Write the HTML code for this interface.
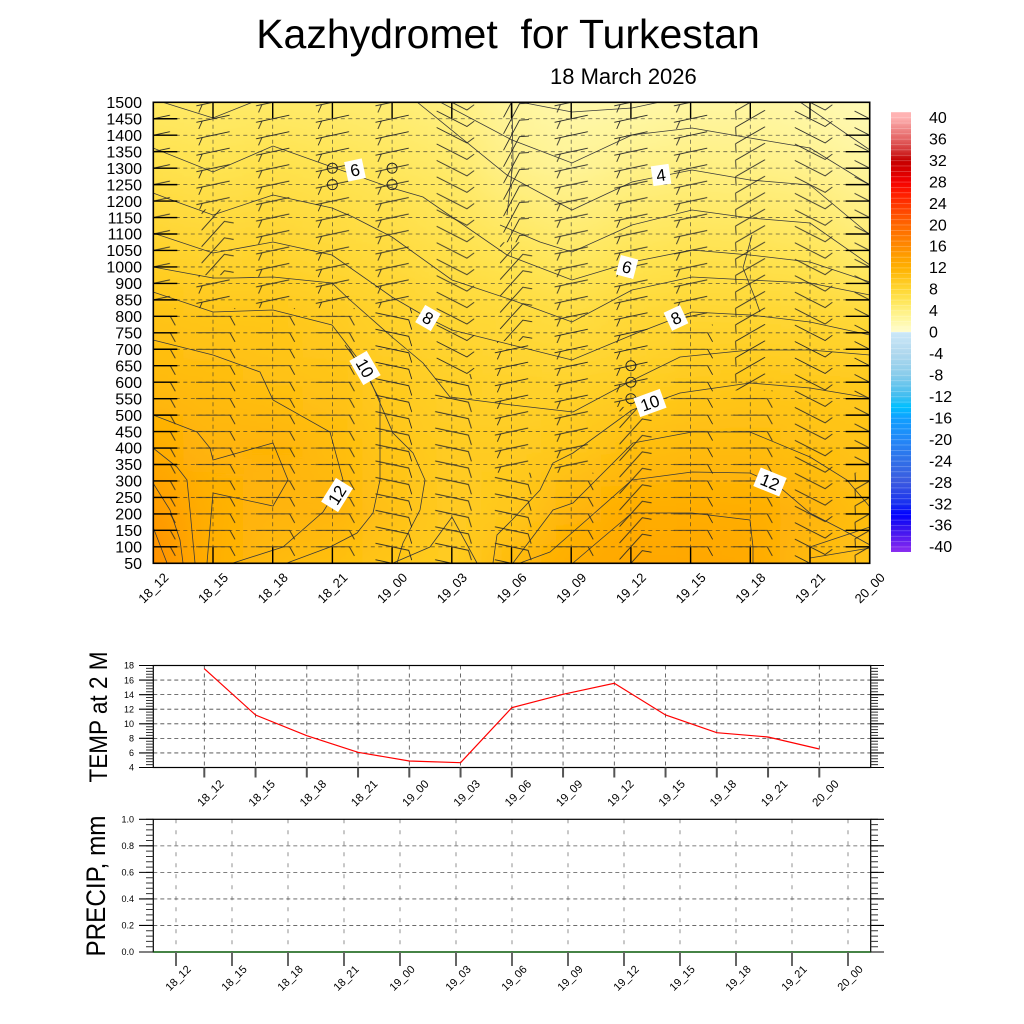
<!DOCTYPE html>
<html>
<head>
<meta charset="utf-8">
<style>
html,body{margin:0;padding:0;background:#fff;}
svg{display:block;font-family:"Liberation Sans",Arial,sans-serif;}
</style>
</head>
<body>
<svg width="1024" height="1024" viewBox="0 0 1024 1024" xmlns="http://www.w3.org/2000/svg">
<defs>
  <filter id="hb" filterUnits="userSpaceOnUse" x="60" y="95" width="910" height="480">
    <feGaussianBlur stdDeviation="22 0"/>
  </filter>
  <clipPath id="plotclip"><rect x="153.3" y="102.3" width="716.4" height="461"/></clipPath>

  <linearGradient id="g0" x1="0" y1="0" x2="0" y2="1"><stop offset="0" stop-color="#ffe964"/><stop offset=".143" stop-color="#ffe14b"/><stop offset=".357" stop-color="#ffcf26"/><stop offset=".464" stop-color="#ffc315"/><stop offset=".607" stop-color="#ffba0c"/><stop offset=".75" stop-color="#ffac00"/><stop offset=".893" stop-color="#ff9900"/><stop offset="1" stop-color="#ff8e00"/></linearGradient>
  <linearGradient id="g1" x1="0" y1="0" x2="0" y2="1"><stop offset="0" stop-color="#ffea68"/><stop offset=".143" stop-color="#ffe452"/><stop offset=".357" stop-color="#ffd22c"/><stop offset=".464" stop-color="#ffc719"/><stop offset=".607" stop-color="#ffbc0e"/><stop offset=".75" stop-color="#ffb508"/><stop offset=".893" stop-color="#ffb004"/><stop offset="1" stop-color="#ffb004"/></linearGradient>
  <linearGradient id="g2" x1="0" y1="0" x2="0" y2="1"><stop offset="0" stop-color="#ffea68"/><stop offset=".143" stop-color="#ffe14b"/><stop offset=".357" stop-color="#ffd12a"/><stop offset=".464" stop-color="#ffc719"/><stop offset=".607" stop-color="#ffc112"/><stop offset=".75" stop-color="#ffb306"/><stop offset=".893" stop-color="#ffb508"/><stop offset="1" stop-color="#ffba0c"/></linearGradient>
  <linearGradient id="g3" x1="0" y1="0" x2="0" y2="1"><stop offset="0" stop-color="#ffeb6d"/><stop offset=".143" stop-color="#ffe452"/><stop offset=".357" stop-color="#ffd632"/><stop offset=".464" stop-color="#ffcc22"/><stop offset=".607" stop-color="#ffc315"/><stop offset=".75" stop-color="#ffbc0e"/><stop offset=".893" stop-color="#ffb508"/><stop offset="1" stop-color="#ffbf10"/></linearGradient>
  <linearGradient id="g4" x1="0" y1="0" x2="0" y2="1"><stop offset="0" stop-color="#ffed74"/><stop offset=".143" stop-color="#ffe75d"/><stop offset=".357" stop-color="#ffd939"/><stop offset=".464" stop-color="#ffd22c"/><stop offset=".607" stop-color="#ffcb20"/><stop offset=".75" stop-color="#ffc618"/><stop offset=".893" stop-color="#ffc112"/><stop offset="1" stop-color="#ffc618"/></linearGradient>
  <linearGradient id="g5" x1="0" y1="0" x2="0" y2="1"><stop offset="0" stop-color="#fff080"/><stop offset=".143" stop-color="#ffea68"/><stop offset=".357" stop-color="#ffdf45"/><stop offset=".464" stop-color="#ffd734"/><stop offset=".607" stop-color="#ffd028"/><stop offset=".75" stop-color="#ffcc23"/><stop offset=".893" stop-color="#ffcb20"/><stop offset="1" stop-color="#ffcd24"/></linearGradient>
  <linearGradient id="g6" x1="0" y1="0" x2="0" y2="1"><stop offset="0" stop-color="#fff59e"/><stop offset=".143" stop-color="#fff188"/><stop offset=".357" stop-color="#ffe34e"/><stop offset=".464" stop-color="#ffda3a"/><stop offset=".607" stop-color="#ffd22b"/><stop offset=".75" stop-color="#ffcc22"/><stop offset=".893" stop-color="#ffc81a"/><stop offset="1" stop-color="#ffba0c"/></linearGradient>
  <linearGradient id="g7" x1="0" y1="0" x2="0" y2="1"><stop offset="0" stop-color="#fff8aa"/><stop offset=".143" stop-color="#fff497"/><stop offset=".357" stop-color="#ffe75d"/><stop offset=".464" stop-color="#ffdd41"/><stop offset=".607" stop-color="#ffd32d"/><stop offset=".75" stop-color="#ffc81b"/><stop offset=".893" stop-color="#ffb508"/><stop offset="1" stop-color="#ffac00"/></linearGradient>
  <linearGradient id="g8" x1="0" y1="0" x2="0" y2="1"><stop offset="0" stop-color="#fff8aa"/><stop offset=".143" stop-color="#fff188"/><stop offset=".357" stop-color="#ffe34e"/><stop offset=".464" stop-color="#ffd837"/><stop offset=".607" stop-color="#ffcf26"/><stop offset=".75" stop-color="#ffbe0f"/><stop offset=".893" stop-color="#ffac00"/><stop offset="1" stop-color="#ffa700"/></linearGradient>
  <linearGradient id="g9" x1="0" y1="0" x2="0" y2="1"><stop offset="0" stop-color="#fff6a3"/><stop offset=".143" stop-color="#fff080"/><stop offset=".357" stop-color="#ffe047"/><stop offset=".464" stop-color="#ffd531"/><stop offset=".607" stop-color="#ffca1e"/><stop offset=".75" stop-color="#ffbb0d"/><stop offset=".893" stop-color="#ffac00"/><stop offset="1" stop-color="#ffa700"/></linearGradient>
  <linearGradient id="g10" x1="0" y1="0" x2="0" y2="1"><stop offset="0" stop-color="#fff6a3"/><stop offset=".143" stop-color="#fff185"/><stop offset=".357" stop-color="#ffe049"/><stop offset=".464" stop-color="#ffd632"/><stop offset=".607" stop-color="#ffc81b"/><stop offset=".75" stop-color="#ffbb0d"/><stop offset=".893" stop-color="#ffad01"/><stop offset="1" stop-color="#ffa900"/></linearGradient>
  <linearGradient id="g11" x1="0" y1="0" x2="0" y2="1"><stop offset="0" stop-color="#fff8aa"/><stop offset=".143" stop-color="#fff28d"/><stop offset=".357" stop-color="#ffe34e"/><stop offset=".464" stop-color="#ffd734"/><stop offset=".607" stop-color="#ffc91d"/><stop offset=".75" stop-color="#ffc011"/><stop offset=".893" stop-color="#ffb508"/><stop offset="1" stop-color="#ffba0c"/></linearGradient>
  <linearGradient id="g12" x1="0" y1="0" x2="0" y2="1"><stop offset="0" stop-color="#fffab8"/><stop offset=".143" stop-color="#fff59e"/><stop offset=".357" stop-color="#ffea68"/><stop offset=".464" stop-color="#ffd939"/><stop offset=".607" stop-color="#ffca1e"/><stop offset=".75" stop-color="#ffc315"/><stop offset=".893" stop-color="#ffbf10"/><stop offset="1" stop-color="#ffc315"/></linearGradient>

  <linearGradient id="cb" x1="0" y1="0" x2="0" y2="1">
    <stop offset="0" stop-color="#ffb3b3"/><stop offset=".012" stop-color="#ffb3b3"/>
    <stop offset=".037" stop-color="#f08a8a"/><stop offset=".061" stop-color="#e46464"/>
    <stop offset=".086" stop-color="#d43838"/><stop offset=".110" stop-color="#c40000"/>
    <stop offset=".134" stop-color="#d80000"/><stop offset=".159" stop-color="#f40000"/>
    <stop offset=".183" stop-color="#ff1a00"/><stop offset=".208" stop-color="#ff3400"/>
    <stop offset=".232" stop-color="#ff4e00"/><stop offset=".256" stop-color="#ff6600"/>
    <stop offset=".281" stop-color="#ff7800"/><stop offset=".305" stop-color="#ff8a00"/>
    <stop offset=".329" stop-color="#ffa000"/><stop offset=".354" stop-color="#ffb000"/>
    <stop offset=".378" stop-color="#ffc41a"/><stop offset=".402" stop-color="#ffd632"/>
    <stop offset=".427" stop-color="#ffe452"/><stop offset=".451" stop-color="#fff080"/>
    <stop offset=".476" stop-color="#fff8a8"/><stop offset=".4999" stop-color="#fffcd0"/>
    <stop offset=".5" stop-color="#cce8f8"/><stop offset=".549" stop-color="#b0d8ee"/>
    <stop offset=".598" stop-color="#88cceb"/><stop offset=".646" stop-color="#40bdf0"/>
    <stop offset=".670" stop-color="#00c0ff"/><stop offset=".695" stop-color="#10a0ff"/>
    <stop offset=".744" stop-color="#2288f8"/><stop offset=".793" stop-color="#3070e8"/>
    <stop offset=".841" stop-color="#3c5ae0"/><stop offset=".890" stop-color="#1830f0"/>
    <stop offset=".915" stop-color="#0000ff"/><stop offset=".939" stop-color="#2810f0"/>
    <stop offset=".988" stop-color="#7a24f0"/><stop offset="1" stop-color="#8a30f0"/>
  </linearGradient>
  <pattern id="cbsep" patternUnits="userSpaceOnUse" x="891" y="112" width="20" height="5.366">
    <rect x="0" y="0" width="20" height=".6" fill="#fff" fill-opacity=".35"/>
  </pattern>

  <!-- wind barb glyphs -->
  <g id="b0"><path d="M-17 0H17L22 9" fill="none" stroke="#252525" stroke-width=".85"/></g>
  <g id="b10"><path transform="rotate(12)" d="M-17 0H17L22 9" fill="none" stroke="#252525" stroke-width=".85"/></g>
  <g id="bR"><path transform="rotate(-12)" d="M17 0H-17M-11 0L-16 7" fill="none" stroke="#252525" stroke-width=".85"/></g>
  <g id="bD"><path transform="rotate(27)" d="M-17 0H17L21 -8" fill="none" stroke="#252525" stroke-width=".85"/></g>
  <g id="bS"><path transform="rotate(-48)" d="M-17 0H17L22 8" fill="none" stroke="#252525" stroke-width=".85"/></g>
  <g id="bV"><path transform="rotate(-62)" d="M-17 0H17L22 8" fill="none" stroke="#252525" stroke-width=".85"/></g>
  <g id="bR30"><path transform="rotate(-30)" d="M-17 0H17M-17 0L-21 8" fill="none" stroke="#252525" stroke-width=".85"/></g>

  <pattern id="p0" patternUnits="userSpaceOnUse" x="123.45" y="94.07" width="59.7" height="16.464"><use href="#b0" x="29.85" y="-8.232"/><use href="#b0" x="29.85" y="8.232"/><use href="#b0" x="29.85" y="24.696"/></pattern>
  <pattern id="p10" patternUnits="userSpaceOnUse" x="123.45" y="94.07" width="59.7" height="16.464"><use href="#b10" x="29.85" y="-8.232"/><use href="#b10" x="29.85" y="8.232"/><use href="#b10" x="29.85" y="24.696"/></pattern>
  <pattern id="pR" patternUnits="userSpaceOnUse" x="123.45" y="94.07" width="59.7" height="16.464"><use href="#bR" x="29.85" y="-8.232"/><use href="#bR" x="29.85" y="8.232"/><use href="#bR" x="29.85" y="24.696"/></pattern>
  <pattern id="pD" patternUnits="userSpaceOnUse" x="123.45" y="94.07" width="59.7" height="16.464"><use href="#bD" x="29.85" y="-8.232"/><use href="#bD" x="29.85" y="8.232"/><use href="#bD" x="29.85" y="24.696"/></pattern>
  <pattern id="pS" patternUnits="userSpaceOnUse" x="123.45" y="94.07" width="59.7" height="16.464"><use href="#bS" x="29.85" y="-8.232"/><use href="#bS" x="29.85" y="8.232"/><use href="#bS" x="29.85" y="24.696"/></pattern>
  <pattern id="pV" patternUnits="userSpaceOnUse" x="123.45" y="94.07" width="59.7" height="16.464"><use href="#bV" x="29.85" y="-8.232"/><use href="#bV" x="29.85" y="8.232"/><use href="#bV" x="29.85" y="24.696"/></pattern>
  <pattern id="pR30" patternUnits="userSpaceOnUse" x="123.45" y="94.07" width="59.7" height="16.464"><use href="#bR30" x="29.85" y="-8.232"/><use href="#bR30" x="29.85" y="8.232"/><use href="#bR30" x="29.85" y="24.696"/></pattern>
</defs>

<rect width="1024" height="1024" fill="#fff"/>

<!-- Titles -->
<text x="508" y="48" font-size="41" text-anchor="middle" style="white-space:pre" fill="#000">Kazhydromet  for Turkestan</text>
<text x="550" y="84" font-size="22" fill="#000">18 March 2026</text>

<!-- ===== MAIN PLOT ===== -->
<g clip-path="url(#plotclip)">
  <rect x="153.3" y="102.3" width="716.4" height="461" fill="#ffd030"/>
  <g filter="url(#hb)">
    <rect x="90" y="102.3" width="93.15" height="461" fill="url(#g0)"/>
    <rect x="183.15" y="102.3" width="59.7" height="461" fill="url(#g1)"/>
    <rect x="242.85" y="102.3" width="59.7" height="461" fill="url(#g2)"/>
    <rect x="302.55" y="102.3" width="59.7" height="461" fill="url(#g3)"/>
    <rect x="362.25" y="102.3" width="59.7" height="461" fill="url(#g4)"/>
    <rect x="421.95" y="102.3" width="59.7" height="461" fill="url(#g5)"/>
    <rect x="481.65" y="102.3" width="59.7" height="461" fill="url(#g6)"/>
    <rect x="541.35" y="102.3" width="59.7" height="461" fill="url(#g7)"/>
    <rect x="601.05" y="102.3" width="59.7" height="461" fill="url(#g8)"/>
    <rect x="660.75" y="102.3" width="59.7" height="461" fill="url(#g9)"/>
    <rect x="720.45" y="102.3" width="59.7" height="461" fill="url(#g10)"/>
    <rect x="780.15" y="102.3" width="59.7" height="461" fill="url(#g11)"/>
    <rect x="839.85" y="102.3" width="95.15" height="461" fill="url(#g12)"/>
  </g>

  <!-- contour lines -->
  <g fill="none" stroke="#3a3a3a" stroke-width=".8">
    <polyline points="162,102 213,118 253,102"/>
    <polyline points="153,148 213,172 273,146 332,167 392,188 423,197 507,255 572,280 632,262 692,250 750,255 810,262 870,282"/>
    <polyline points="153,193 177,202 213,215 273,195 332,208 353,217 392,237 452,280 512,300 572,322 632,290 692,277 750,280 810,283 870,295"/>
    <polyline points="153,233 213,253 273,242 332,255 392,297 428,318 452,330 512,345 572,360 632,335 676,318 692,312 750,315 810,322 870,335"/>
    <polyline points="153,267 213,278 233,278 273,277 332,283 350,300 392,337 423,363 450,397 512,405 573,412 633,380 680,357 750,350 810,350 870,355"/>
    <polyline points="153,292 213,312 273,310 332,325 365,368 380,403 393,433 413,453 425,480 420,510 403,543 397,563"/>
    <polyline points="153,340 213,355 260,372 273,400 330,432 343,480 323,512 283,547 233,563"/>
    <polyline points="153,415 197,432 210,448 213,460 273,443 288,480 273,506 213,493 207,563"/>
    <polyline points="153,448 177,467 187,480 190,510 195,563"/>
    <polyline points="153,483 170,510 180,540 183,563"/>
    <polyline points="153,527 167,563"/>
    <polyline points="345,345 365,372 380,400 380,480 373,513 357,533 330,547 287,563"/>
    <polyline points="393,563 430,547 452,517 477,563"/>
    <polyline points="493,563 497,535 512,520 540,490 553,463 573,453 632,410 680,393 750,383 810,388 870,398"/>
    <polyline points="513,563 553,510 573,503 633,443 692,432 750,432 810,457 847,480 870,507"/>
    <polyline points="520,563 550,552 590,517 632,480 692,472 750,473 770,482 783,490 810,513 843,530 870,545"/>
    <polyline points="573,563 600,540 632,513 692,513 750,520 753,547 753,563"/>
    <polyline points="810,547 870,527"/>
    <polyline points="810,558 870,548"/>
    <polyline points="440,102 512,140 572,163 632,135 692,128 750,138 810,148 870,185"/>
    <polyline points="417,102 507,175 572,210 632,182 692,170 750,180 810,185 870,235"/>
    <polyline points="500,225 540,242 572,252 632,225 692,210 750,218 810,223 870,265"/>
    <polyline points="520,102 572,112 632,108 660,102"/>
    <polyline points="512,102 513,162 507,215"/>
    <polyline points="752,235 743,268 755,298 760,312"/>
    <polyline points="800,102 870,150"/>
  </g>

  <!-- wind barbs -->
  <rect x="123.45" y="94.07" width="59.7" height="214.03" fill="url(#pR)"/>
  <rect x="183.15" y="94.07" width="59.7" height="115.25" fill="url(#pR)"/>
  <rect x="183.15" y="209.32" width="59.7" height="65.86" fill="url(#pS)"/>
  <rect x="183.15" y="275.17" width="59.7" height="32.93" fill="url(#pR)"/>
  <rect x="242.85" y="94.07" width="179.1" height="214.03" fill="url(#pR)"/>
  <rect x="421.95" y="94.07" width="59.7" height="279.89" fill="url(#pD)"/>
  <rect x="481.65" y="94.07" width="59.7" height="148.18" fill="url(#pV)"/>
  <rect x="481.65" y="242.25" width="59.7" height="98.78" fill="url(#pS)"/>
  <rect x="541.35" y="94.07" width="179.1" height="230.5" fill="url(#pR)"/>
  <rect x="720.45" y="94.07" width="59.7" height="296.35" fill="url(#pR30)"/>
  <rect x="780.15" y="94.07" width="59.7" height="477.46" fill="url(#pD)"/>
  <rect x="839.85" y="94.07" width="59.7" height="378.67" fill="url(#pD)"/>
  <rect x="123.45" y="308.10" width="238.8" height="263.42" fill="url(#p0)"/>
  <rect x="362.25" y="308.10" width="59.7" height="263.42" fill="url(#p10)"/>
  <rect x="421.95" y="373.96" width="59.7" height="197.57" fill="url(#p10)"/>
  <rect x="481.65" y="341.03" width="59.7" height="131.71" fill="url(#pR)"/>
  <rect x="481.65" y="472.74" width="59.7" height="98.78" fill="url(#p10)"/>
  <rect x="541.35" y="324.57" width="59.7" height="148.18" fill="url(#pR)"/>
  <rect x="541.35" y="472.74" width="59.7" height="98.78" fill="url(#p0)"/>
  <rect x="601.05" y="324.57" width="59.7" height="82.32" fill="url(#pR)"/>
  <rect x="601.05" y="406.89" width="59.7" height="164.64" fill="url(#pS)"/>
  <rect x="660.75" y="324.57" width="59.7" height="246.96" fill="url(#p0)"/>
  <rect x="720.45" y="390.42" width="59.7" height="181.1" fill="url(#p0)"/>
  <rect x="839.85" y="472.74" width="59.7" height="98.78" fill="url(#pR30)"/>

  <!-- dashed grid -->
  <path fill="none" stroke="#333" stroke-opacity=".75" stroke-width=".8" stroke-dasharray="4 3.5"
    d="M213 102.3V563.3M272.7 102.3V563.3M332.4 102.3V563.3M392.1 102.3V563.3M451.8 102.3V563.3M511.5 102.3V563.3M571.2 102.3V563.3M630.9 102.3V563.3M690.6 102.3V563.3M750.3 102.3V563.3M810 102.3V563.3
    M153.3 118.76H869.7M153.3 135.23H869.7M153.3 151.69H869.7M153.3 168.16H869.7M153.3 184.62H869.7M153.3 201.08H869.7M153.3 217.55H869.7M153.3 234.01H869.7M153.3 250.48H869.7M153.3 266.94H869.7M153.3 283.4H869.7M153.3 299.87H869.7M153.3 316.33H869.7M153.3 332.8H869.7M153.3 349.26H869.7M153.3 365.72H869.7M153.3 382.19H869.7M153.3 398.65H869.7M153.3 415.12H869.7M153.3 431.58H869.7M153.3 448.04H869.7M153.3 464.51H869.7M153.3 480.97H869.7M153.3 497.44H869.7M153.3 513.9H869.7M153.3 530.36H869.7M153.3 546.83H869.7"/>

  <!-- calm circles -->
  <g fill="none" stroke="#222" stroke-width=".9">
    <circle cx="332.4" cy="168.16" r="5"/><circle cx="332.4" cy="184.62" r="5"/>
    <circle cx="392.1" cy="168.16" r="5"/><circle cx="392.1" cy="184.62" r="5"/>
    <circle cx="630.9" cy="365.72" r="5"/><circle cx="630.9" cy="382.19" r="5"/><circle cx="630.9" cy="398.65" r="5"/>
  </g>

  <!-- contour labels -->
  <g font-size="17" text-anchor="middle" fill="#000">
    <g transform="translate(355,170) rotate(-12)"><rect x="-9" y="-10" width="18" height="20" fill="#fff"/><text y="6">6</text></g>
    <g transform="translate(661,175) rotate(-8)"><rect x="-9" y="-10" width="18" height="20" fill="#fff"/><text y="6">4</text></g>
    <g transform="translate(627,267) rotate(15)"><rect x="-9" y="-10" width="18" height="20" fill="#fff"/><text y="6">6</text></g>
    <g transform="translate(428,318) rotate(30)"><rect x="-9" y="-10" width="18" height="20" fill="#fff"/><text y="6">8</text></g>
    <g transform="translate(676,318) rotate(-25)"><rect x="-9" y="-10" width="18" height="20" fill="#fff"/><text y="6">8</text></g>
    <g transform="translate(365,368) rotate(60)"><rect x="-14" y="-10" width="28" height="20" fill="#fff"/><text y="6">10</text></g>
    <g transform="translate(650,403) rotate(-20)"><rect x="-14" y="-10" width="28" height="20" fill="#fff"/><text y="6">10</text></g>
    <g transform="translate(337,495) rotate(-58)"><rect x="-14" y="-10" width="28" height="20" fill="#fff"/><text y="6">12</text></g>
    <g transform="translate(770,482) rotate(22)"><rect x="-14" y="-10" width="28" height="20" fill="#fff"/><text y="6">12</text></g>
  </g>
</g>

<!-- main ticks -->
<path fill="none" stroke="#000" stroke-width="1.4"
  d="M153.3 102.3h24M153.3 118.76h24M153.3 135.23h24M153.3 151.69h24M153.3 168.16h24M153.3 184.62h24M153.3 201.08h24M153.3 217.55h24M153.3 234.01h24M153.3 250.48h24M153.3 266.94h24M153.3 283.4h24M153.3 299.87h24M153.3 316.33h24M153.3 332.8h24M153.3 349.26h24M153.3 365.72h24M153.3 382.19h24M153.3 398.65h24M153.3 415.12h24M153.3 431.58h24M153.3 448.04h24M153.3 464.51h24M153.3 480.97h24M153.3 497.44h24M153.3 513.9h24M153.3 530.36h24M153.3 546.83h24M153.3 563.29h24
  M869.7 102.3h-24M869.7 118.76h-24M869.7 135.23h-24M869.7 151.69h-24M869.7 168.16h-24M869.7 184.62h-24M869.7 201.08h-24M869.7 217.55h-24M869.7 234.01h-24M869.7 250.48h-24M869.7 266.94h-24M869.7 283.4h-24M869.7 299.87h-24M869.7 316.33h-24M869.7 332.8h-24M869.7 349.26h-24M869.7 365.72h-24M869.7 382.19h-24M869.7 398.65h-24M869.7 415.12h-24M869.7 431.58h-24M869.7 448.04h-24M869.7 464.51h-24M869.7 480.97h-24M869.7 497.44h-24M869.7 513.9h-24M869.7 530.36h-24M869.7 546.83h-24M869.7 563.29h-24
  M213 563.3v-16M272.7 563.3v-16M332.4 563.3v-16M392.1 563.3v-16M451.8 563.3v-16M511.5 563.3v-16M571.2 563.3v-16M630.9 563.3v-16M690.6 563.3v-16M750.3 563.3v-16M810 563.3v-16
  M213 102.3v16M272.7 102.3v16M332.4 102.3v16M392.1 102.3v16M451.8 102.3v16M511.5 102.3v16M571.2 102.3v16M630.9 102.3v16M690.6 102.3v16M750.3 102.3v16M810 102.3v16"/>
<rect x="153.3" y="102.3" width="716.4" height="461" fill="none" stroke="#000" stroke-width="1.6"/>

<!-- main Y labels -->
<g font-size="16" text-anchor="end" fill="#000">
  <text x="142" y="108">1500</text><text x="142" y="124.46">1450</text><text x="142" y="140.93">1400</text>
  <text x="142" y="157.39">1350</text><text x="142" y="173.86">1300</text><text x="142" y="190.32">1250</text>
  <text x="142" y="206.78">1200</text><text x="142" y="223.25">1150</text><text x="142" y="239.71">1100</text>
  <text x="142" y="256.18">1050</text><text x="142" y="272.64">1000</text><text x="142" y="289.1">900</text>
  <text x="142" y="305.57">850</text><text x="142" y="322.03">800</text><text x="142" y="338.5">750</text>
  <text x="142" y="354.96">700</text><text x="142" y="371.42">650</text><text x="142" y="387.89">600</text>
  <text x="142" y="404.35">550</text><text x="142" y="420.82">500</text><text x="142" y="437.28">450</text>
  <text x="142" y="453.74">400</text><text x="142" y="470.21">350</text><text x="142" y="486.67">300</text>
  <text x="142" y="503.14">250</text><text x="142" y="519.6">200</text><text x="142" y="536.06">150</text>
  <text x="142" y="552.53">100</text><text x="142" y="568.99">50</text>
</g>

<!-- main X labels -->
<g font-size="13" text-anchor="middle" fill="#000">
  <text transform="translate(153.3,588) rotate(-45)" dy=".35em">18_12</text>
  <text transform="translate(213,588) rotate(-45)" dy=".35em">18_15</text>
  <text transform="translate(272.7,588) rotate(-45)" dy=".35em">18_18</text>
  <text transform="translate(332.4,588) rotate(-45)" dy=".35em">18_21</text>
  <text transform="translate(392.1,588) rotate(-45)" dy=".35em">19_00</text>
  <text transform="translate(451.8,588) rotate(-45)" dy=".35em">19_03</text>
  <text transform="translate(511.5,588) rotate(-45)" dy=".35em">19_06</text>
  <text transform="translate(571.2,588) rotate(-45)" dy=".35em">19_09</text>
  <text transform="translate(630.9,588) rotate(-45)" dy=".35em">19_12</text>
  <text transform="translate(690.6,588) rotate(-45)" dy=".35em">19_15</text>
  <text transform="translate(750.3,588) rotate(-45)" dy=".35em">19_18</text>
  <text transform="translate(810,588) rotate(-45)" dy=".35em">19_21</text>
  <text transform="translate(869.7,588) rotate(-45)" dy=".35em">20_00</text>
</g>

<!-- colorbar -->
<rect x="891" y="112" width="20" height="440" fill="url(#cb)"/>
<rect x="891" y="112" width="20" height="440" fill="url(#cbsep)"/>
<g font-size="16" fill="#000">
  <text x="929" y="123">40</text><text x="929" y="144.4">36</text><text x="929" y="165.9">32</text>
  <text x="929" y="187.4">28</text><text x="929" y="208.8">24</text><text x="929" y="230.3">20</text>
  <text x="929" y="251.7">16</text><text x="929" y="273.2">12</text><text x="929" y="294.7">8</text>
  <text x="929" y="316.1">4</text><text x="929" y="337.6">0</text><text x="929" y="359">-4</text>
  <text x="929" y="380.5">-8</text><text x="929" y="402">-12</text><text x="929" y="423.4">-16</text>
  <text x="929" y="444.9">-20</text><text x="929" y="466.4">-24</text><text x="929" y="487.8">-28</text>
  <text x="929" y="509.3">-32</text><text x="929" y="530.7">-36</text><text x="929" y="552.2">-40</text>
</g>

<!-- ===== TEMP PLOT ===== -->
<path fill="none" stroke="#444" stroke-width=".8" stroke-dasharray="4 3"
  d="M153.3 680.07H870.7M153.3 694.64H870.7M153.3 709.21H870.7M153.3 723.79H870.7M153.3 738.36H870.7M153.3 752.93H870.7"/>
<path fill="none" stroke="#444" stroke-width=".8" stroke-dasharray="4 4"
  d="M204.3 665.5V767.5M255.55 665.5V767.5M306.8 665.5V767.5M358.05 665.5V767.5M409.3 665.5V767.5M460.55 665.5V767.5M511.8 665.5V767.5M563.05 665.5V767.5M614.3 665.5V767.5M665.55 665.5V767.5M716.8 665.5V767.5M768.05 665.5V767.5M819.3 665.5V767.5"/>
<polyline fill="none" stroke="#ff0000" stroke-width="1.2"
  points="204.3,668.7 255.55,715 306.8,735.7 358.05,752.3 409.3,761 460.55,762.7 511.8,707.7 563.05,694.3 614.3,683.3 665.55,715 716.8,732.7 768.05,737 819.3,749"/>
<rect x="153.3" y="665.5" width="717.4" height="102" fill="none" stroke="#000" stroke-width="1.2"/>
<!-- temp ticks -->
<path fill="none" stroke="#333" stroke-width="7.3" stroke-dasharray="1 1.914" d="M149.65 665V768"/>
<path fill="none" stroke="#333" stroke-width="7.3" stroke-dasharray="1 1.914" d="M874.35 665V768"/>
<path fill="none" stroke="#000" stroke-width="1.1"
  d="M139 665.5H153.3M139 680.07H153.3M139 694.64H153.3M139 709.21H153.3M139 723.79H153.3M139 738.36H153.3M139 752.93H153.3M139 767.5H153.3
  M870.7 665.5H884M870.7 680.07H884M870.7 694.64H884M870.7 709.21H884M870.7 723.79H884M870.7 738.36H884M870.7 752.93H884M870.7 767.5H884"/>
<path fill="none" stroke="#555" stroke-width="2"
  d="M204.3 767.5V777.5M255.55 767.5V777.5M306.8 767.5V777.5M358.05 767.5V777.5M409.3 767.5V777.5M460.55 767.5V777.5M511.8 767.5V777.5M563.05 767.5V777.5M614.3 767.5V777.5M665.55 767.5V777.5M716.8 767.5V777.5M768.05 767.5V777.5M819.3 767.5V777.5"/>
<g font-size="9" text-anchor="end" fill="#000">
  <text x="134" y="668.7">18</text><text x="134" y="683.3">16</text><text x="134" y="697.8">14</text>
  <text x="134" y="712.4">12</text><text x="134" y="727">10</text><text x="134" y="741.6">8</text>
  <text x="134" y="756.1">6</text><text x="134" y="770.7">4</text>
</g>
<g font-size="11.5" text-anchor="middle" fill="#000">
  <text transform="translate(210.3,793) rotate(-45)" dy=".35em">18_12</text>
  <text transform="translate(261.55,793) rotate(-45)" dy=".35em">18_15</text>
  <text transform="translate(312.8,793) rotate(-45)" dy=".35em">18_18</text>
  <text transform="translate(364.05,793) rotate(-45)" dy=".35em">18_21</text>
  <text transform="translate(415.3,793) rotate(-45)" dy=".35em">19_00</text>
  <text transform="translate(466.55,793) rotate(-45)" dy=".35em">19_03</text>
  <text transform="translate(517.8,793) rotate(-45)" dy=".35em">19_06</text>
  <text transform="translate(569.05,793) rotate(-45)" dy=".35em">19_09</text>
  <text transform="translate(620.3,793) rotate(-45)" dy=".35em">19_12</text>
  <text transform="translate(671.55,793) rotate(-45)" dy=".35em">19_15</text>
  <text transform="translate(722.8,793) rotate(-45)" dy=".35em">19_18</text>
  <text transform="translate(774.05,793) rotate(-45)" dy=".35em">19_21</text>
  <text transform="translate(825.3,793) rotate(-45)" dy=".35em">20_00</text>
</g>
<text transform="translate(107,717) rotate(-90)" text-anchor="middle" font-size="25" textLength="131" lengthAdjust="spacingAndGlyphs" fill="#000">TEMP at 2 M</text>

<!-- ===== PRECIP PLOT ===== -->
<path fill="none" stroke="#aaa" stroke-width="1.3" stroke-dasharray="4 7"
  d="M176 819.3V952M232 819.3V952M288 819.3V952M344 819.3V952M400 819.3V952M456 819.3V952M512 819.3V952M568 819.3V952M624 819.3V952M680 819.3V952M736 819.3V952M792 819.3V952M848 819.3V952"/>
<path fill="none" stroke="#555" stroke-width=".8" stroke-dasharray="4 3"
  d="M153.3 845.84H870.7M153.3 872.38H870.7M153.3 898.92H870.7M153.3 925.46H870.7"/>
<rect x="153.3" y="819.3" width="717.4" height="132.7" fill="none" stroke="#000" stroke-width="1.2"/>
<path d="M153.3 952H870.7" stroke="#1a6b1a" stroke-width="1.4"/>
<path fill="none" stroke="#333" stroke-width="7.3" stroke-dasharray="1 4.308" d="M149.65 818.8V953"/>
<path fill="none" stroke="#333" stroke-width="7.3" stroke-dasharray="1 4.308" d="M874.35 818.8V953"/>
<path fill="none" stroke="#000" stroke-width="1.1"
  d="M139 819.3H153.3M139 845.84H153.3M139 872.38H153.3M139 898.92H153.3M139 925.46H153.3M139 952H153.3
  M870.7 819.3H884M870.7 845.84H884M870.7 872.38H884M870.7 898.92H884M870.7 925.46H884M870.7 952H884"/>
<path fill="none" stroke="#666" stroke-width="2"
  d="M176 952V966M232 952V966M288 952V966M344 952V966M400 952V966M456 952V966M512 952V966M568 952V966M624 952V966M680 952V966M736 952V966M792 952V966M848 952V966"/>
<g font-size="9" text-anchor="end" fill="#000">
  <text x="134" y="822.5">1.0</text><text x="134" y="849">0.8</text><text x="134" y="875.6">0.6</text>
  <text x="134" y="902.1">0.4</text><text x="134" y="928.7">0.2</text><text x="134" y="955.2">0.0</text>
</g>
<g font-size="11" text-anchor="middle" fill="#000">
  <text transform="translate(178,978) rotate(-45)" dy=".35em">18_12</text>
  <text transform="translate(234,978) rotate(-45)" dy=".35em">18_15</text>
  <text transform="translate(290,978) rotate(-45)" dy=".35em">18_18</text>
  <text transform="translate(346,978) rotate(-45)" dy=".35em">18_21</text>
  <text transform="translate(402,978) rotate(-45)" dy=".35em">19_00</text>
  <text transform="translate(458,978) rotate(-45)" dy=".35em">19_03</text>
  <text transform="translate(514,978) rotate(-45)" dy=".35em">19_06</text>
  <text transform="translate(570,978) rotate(-45)" dy=".35em">19_09</text>
  <text transform="translate(626,978) rotate(-45)" dy=".35em">19_12</text>
  <text transform="translate(682,978) rotate(-45)" dy=".35em">19_15</text>
  <text transform="translate(738,978) rotate(-45)" dy=".35em">19_18</text>
  <text transform="translate(794,978) rotate(-45)" dy=".35em">19_21</text>
  <text transform="translate(850,978) rotate(-45)" dy=".35em">20_00</text>
</g>
<text transform="translate(105,886) rotate(-90)" text-anchor="middle" font-size="27" textLength="141" lengthAdjust="spacingAndGlyphs" fill="#000">PRECIP, mm</text>
</svg>
</body>
</html>
